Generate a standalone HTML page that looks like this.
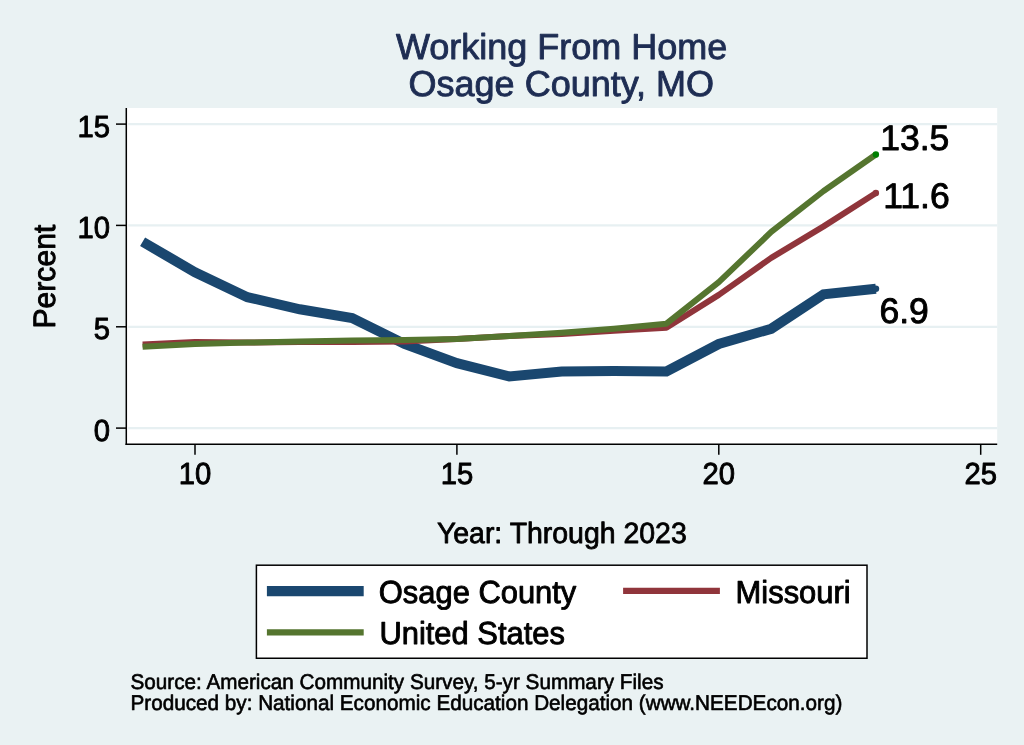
<!DOCTYPE html>
<html lang="en"><head><meta charset="utf-8"><title>Working From Home - Osage County, MO</title>
<style>
html,body{margin:0;padding:0;background:#eaf2f3;}
body{width:1024px;height:745px;overflow:hidden;}
svg text{font-family:"Liberation Sans",Arial,Helvetica,sans-serif;stroke-linejoin:round;text-rendering:geometricPrecision;}
</style></head><body>
<svg width="1024" height="745" viewBox="0 0 1024 745" style="display:block">
<rect x="0" y="0" width="1024" height="745" fill="#eaf2f3"/>
<rect x="126" y="108" width="871.2" height="336" fill="#ffffff"/>
<line x1="128.2" x2="997.2" y1="428.1" y2="428.1" stroke="#e7f0f2" stroke-width="2.2"/>
<line x1="128.2" x2="997.2" y1="326.8" y2="326.8" stroke="#e7f0f2" stroke-width="2.2"/>
<line x1="128.2" x2="997.2" y1="225.4" y2="225.4" stroke="#e7f0f2" stroke-width="2.2"/>
<line x1="128.2" x2="997.2" y1="124.1" y2="124.1" stroke="#e7f0f2" stroke-width="2.2"/>
<polyline points="142.6,241.8 195.0,272.2 247.4,297.2 299.8,309.3 352.1,318.1 404.5,344.0 456.9,363.2 509.3,376.4 561.7,371.4 614.0,370.9 666.4,371.4 718.8,344.0 771.2,328.8 823.6,294.3 875.9,288.7" fill="none" stroke="#1a476f" stroke-width="10" stroke-linejoin="miter" stroke-linecap="butt"/>
<polyline points="142.6,344.5 195.0,342.0 247.4,342.6 299.8,342.0 352.1,342.0 404.5,341.6 456.9,338.9 509.3,335.9 561.7,333.9 614.0,330.8 666.4,327.8 718.8,294.9 771.2,257.9 823.6,226.4 875.9,193.0" fill="none" stroke="#90353b" stroke-width="6" stroke-linejoin="round"/>
<polyline points="142.6,346.8 195.0,344.0 247.4,342.6 299.8,341.6 352.1,340.5 404.5,339.9 456.9,338.9 509.3,335.9 561.7,332.8 614.0,328.8 666.4,323.7 718.8,282.2 771.2,231.9 823.6,191.0 875.9,154.5" fill="none" stroke="#55752f" stroke-width="6" stroke-linejoin="round"/>
<circle cx="875.9" cy="288.7" r="3.3" fill="#1a476f"/>
<circle cx="875.9" cy="193.0" r="3.2" fill="#90353b"/>
<circle cx="875.9" cy="154.5" r="3.2" fill="#008000"/>
<line x1="126.3" x2="126.3" y1="108" y2="444.9" stroke="#000" stroke-width="1.5"/>
<line x1="125.5" x2="997.2" y1="444.3" y2="444.3" stroke="#000" stroke-width="1.5"/>
<line x1="116" x2="126" y1="428.1" y2="428.1" stroke="#000" stroke-width="1.5"/>
<text transform="translate(110.00,440.50) scale(0.975,1.017)" font-size="30" text-anchor="end" fill="#000" stroke="#000" stroke-width="0.9">0</text>
<line x1="116" x2="126" y1="326.8" y2="326.8" stroke="#000" stroke-width="1.5"/>
<text transform="translate(110.00,339.17) scale(0.975,1.017)" font-size="30" text-anchor="end" fill="#000" stroke="#000" stroke-width="0.9">5</text>
<line x1="116" x2="126" y1="225.4" y2="225.4" stroke="#000" stroke-width="1.5"/>
<text transform="translate(110.00,237.83) scale(0.975,1.017)" font-size="30" text-anchor="end" fill="#000" stroke="#000" stroke-width="0.9">10</text>
<line x1="116" x2="126" y1="124.1" y2="124.1" stroke="#000" stroke-width="1.5"/>
<text transform="translate(110.00,136.50) scale(0.975,1.017)" font-size="30" text-anchor="end" fill="#000" stroke="#000" stroke-width="0.9">15</text>
<line x1="195.0" x2="195.0" y1="444" y2="454.8" stroke="#000" stroke-width="1.5"/>
<text transform="translate(195.00,483.80) scale(0.975,1.017)" font-size="30" text-anchor="middle" fill="#000" stroke="#000" stroke-width="0.9">10</text>
<line x1="456.9" x2="456.9" y1="444" y2="454.8" stroke="#000" stroke-width="1.5"/>
<text transform="translate(456.90,483.80) scale(0.975,1.017)" font-size="30" text-anchor="middle" fill="#000" stroke="#000" stroke-width="0.9">15</text>
<line x1="718.8" x2="718.8" y1="444" y2="454.8" stroke="#000" stroke-width="1.5"/>
<text transform="translate(718.80,483.80) scale(0.975,1.017)" font-size="30" text-anchor="middle" fill="#000" stroke="#000" stroke-width="0.9">20</text>
<line x1="980.7" x2="980.7" y1="444" y2="454.8" stroke="#000" stroke-width="1.5"/>
<text transform="translate(980.70,483.80) scale(0.975,1.017)" font-size="30" text-anchor="middle" fill="#000" stroke="#000" stroke-width="0.9">25</text>
<text transform="translate(561.60,59.30)" font-size="36" text-anchor="middle" fill="#1e2d53" stroke="#1e2d53" stroke-width="0.9">Working From Home</text>
<text transform="translate(561.30,95.60)" font-size="36" text-anchor="middle" fill="#1e2d53" stroke="#1e2d53" stroke-width="0.9">Osage County, MO</text>
<text transform="translate(561.80,543.40) scale(1,1.03)" font-size="28.45" text-anchor="middle" fill="#000" stroke="#000" stroke-width="0.8">Year: Through 2023</text>
<text transform="translate(55.30,276.60) rotate(-90) scale(1,1.03)" font-size="30.1" text-anchor="middle" fill="#000" stroke="#000" stroke-width="0.9">Percent</text>
<text transform="translate(880.20,149.90)" font-size="35.5" text-anchor="start" fill="#000" stroke="#000" stroke-width="0.9">13.5</text>
<text transform="translate(883.20,207.80)" font-size="35.5" text-anchor="start" fill="#000" stroke="#000" stroke-width="0.9">11.6</text>
<text transform="translate(879.50,323.00)" font-size="35.5" text-anchor="start" fill="#000" stroke="#000" stroke-width="0.9">6.9</text>
<rect x="256.4" y="565.2" width="610.6" height="93.05" fill="#fff" stroke="#000" stroke-width="1.5"/>
<line x1="266.9" x2="363.7" y1="591.05" y2="591.05" stroke="#1a476f" stroke-width="10.3"/>
<line x1="266.9" x2="363.7" y1="632.35" y2="632.35" stroke="#55752f" stroke-width="6.1"/>
<line x1="623.1" x2="719.9" y1="590.9" y2="590.9" stroke="#90353b" stroke-width="6.1"/>
<text transform="translate(378.80,603.20) scale(1,1.03)" font-size="30.9" text-anchor="start" fill="#000" stroke="#000" stroke-width="0.9">Osage County</text>
<text transform="translate(379.40,644.10) scale(1,1.03)" font-size="30.9" text-anchor="start" fill="#000" stroke="#000" stroke-width="0.9">United States</text>
<text transform="translate(735.60,603.20) scale(1,1.03)" font-size="30.9" text-anchor="start" fill="#000" stroke="#000" stroke-width="0.9">Missouri</text>
<text transform="translate(130.50,689.00) scale(1,1.03)" font-size="20.69" text-anchor="start" fill="#000" stroke="#000" stroke-width="0.6">Source: American Community Survey, 5-yr Summary Files</text>
<text transform="translate(130.50,710.40) scale(1,1.03)" font-size="20.69" text-anchor="start" fill="#000" stroke="#000" stroke-width="0.6">Produced by: National Economic Education Delegation (www.NEEDEcon.org)</text>
</svg>
</body></html>
